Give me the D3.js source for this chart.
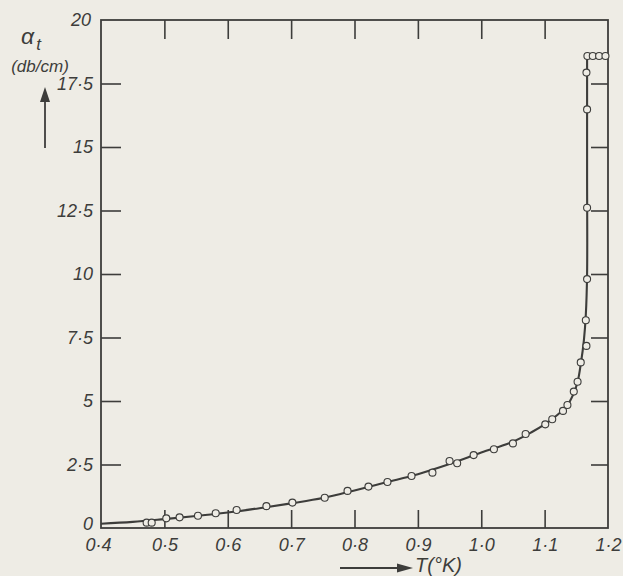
<!DOCTYPE html>
<html>
<head>
<meta charset="utf-8">
<script src="https://cdn.jsdelivr.net/npm/d3@7"></script>
<style>
  html, body { margin: 0; padding: 0; background: #eeece5; }
  svg { display: block; }
  text { font-family: "Liberation Sans", "DejaVu Sans", sans-serif; font-style: italic; fill: #3d3d3b; }
</style>
</head>
<body>
<svg id="chart" width="623" height="576"></svg>
<script>
// Measured points (T in °K, attenuation in db/cm)
const pointsT = [0.472, 0.480, 0.503, 0.524, 0.553, 0.581, 0.614, 0.661, 0.702, 0.753, 0.789, 0.822, 0.852, 0.890, 0.923, 0.950, 0.962, 0.988, 1.020, 1.050, 1.070, 1.101, 1.112, 1.129, 1.136, 1.146, 1.152, 1.157, 1.166, 1.165, 1.167, 1.167, 1.167, 1.166, 1.1675, 1.176, 1.186, 1.196];
const pointsA = [0.21, 0.21, 0.38, 0.42, 0.48, 0.58, 0.71, 0.86, 1.00, 1.19, 1.46, 1.63, 1.81, 2.05, 2.18, 2.64, 2.55, 2.87, 3.10, 3.33, 3.70, 4.08, 4.28, 4.61, 4.84, 5.37, 5.76, 6.52, 7.17, 8.18, 9.8, 12.61, 16.48, 17.93, 18.58, 18.58, 18.58, 18.58];

// Smooth curve
const curveT = [0.40, 0.45, 0.50, 0.55, 0.60, 0.65, 0.70, 0.75, 0.80, 0.85, 0.90, 0.95, 1.00, 1.05, 1.08, 1.10, 1.12, 1.135, 1.145, 1.152, 1.157, 1.162, 1.165, 1.167, 1.167, 1.167];
const curveA = [0.17, 0.24, 0.35, 0.47, 0.61, 0.78, 0.97, 1.18, 1.48, 1.80, 2.12, 2.52, 2.97, 3.40, 3.78, 4.08, 4.45, 4.80, 5.25, 5.75, 6.45, 7.40, 8.40, 10.0, 14.0, 18.58];

// Tick values and labels
const xTickVals = [0.4, 0.5, 0.6, 0.7, 0.8, 0.9, 1.0, 1.1, 1.2];
const xTickLabels = ["0·4", "0·5", "0·6", "0·7", "0·8", "0·9", "1·0", "1·1", "1·2"];
const xInnerTicks = [0.5, 0.6, 0.7, 0.8, 0.9, 1.0, 1.1];
const yTickVals = [0, 2.5, 5, 7.5, 10, 12.5, 15, 17.5, 20];
const yTickLabels = ["0", "2·5", "5", "7·5", "10", "12·5", "15", "17·5", "20"];
const yInnerTicks = [2.5, 5, 7.5, 10, 12.5, 15, 17.5];

const ink = "#3d3d3b";
const bg = "#eeece5";
const svg = d3.select("#chart");

const x = d3.scaleLinear().domain([0.4, 1.2]).range([101, 608]);
const y = d3.scaleLinear().domain([0, 20]).range([528, 20]);

// Axes (ticks drawn inward)
const gB = svg.append("g").attr("transform", `translate(0,${y(0)})`)
  .call(d3.axisBottom(x).tickValues(xTickVals).tickSizeInner(-18).tickSizeOuter(0).tickPadding(10)
    .tickFormat((d, i) => xTickLabels[i]));
const gL = svg.append("g").attr("transform", `translate(${x(0.4)},0)`)
  .call(d3.axisLeft(y).tickValues(yTickVals).tickSizeInner(-20).tickSizeOuter(0).tickPadding(8)
    .tickFormat((d, i) => yTickLabels[i]));
const gT = svg.append("g").attr("transform", `translate(0,${y(20)})`)
  .call(d3.axisTop(x).tickValues(xInnerTicks).tickSizeInner(-19).tickSizeOuter(0).tickFormat(""));
const gR = svg.append("g").attr("transform", `translate(${x(1.2)},0)`)
  .call(d3.axisRight(y).tickValues(yInnerTicks).tickSizeInner(-17).tickSizeOuter(0).tickFormat(""));

[gB, gL, gT, gR].forEach(g => {
  g.select(".domain").remove();
  g.selectAll(".tick line").attr("stroke", ink).attr("stroke-width", 1.6);
  g.selectAll(".tick text").attr("fill", ink).attr("font-size", 18)
    .attr("font-family", "Liberation Sans, DejaVu Sans, sans-serif").attr("font-style", "italic");
});
gB.selectAll(".tick").filter(d => d === 0.4 || d === 1.2).select("line").remove();
gL.selectAll(".tick").filter(d => d === 0 || d === 20).select("line").remove();
gB.selectAll(".tick").filter(d => d === 0.4).select("text").attr("dx", -3);
gL.selectAll(".tick").filter(d => d === 0).select("text").attr("y", -4);
gL.selectAll(".tick").filter(d => d === 20).select("text").attr("x", -10);

// Frame
svg.append("rect")
  .attr("x", x(0.4)).attr("y", y(20))
  .attr("width", x(1.2) - x(0.4)).attr("height", y(0) - y(20))
  .attr("fill", "none").attr("stroke", ink).attr("stroke-width", 1.8);

// Curve
const line = d3.line().x(d => x(d[0])).y(d => y(d[1])).curve(d3.curveCatmullRom.alpha(0.5));
svg.append("path")
  .datum(curveT.map((t, i) => [t, curveA[i]]))
  .attr("d", line).attr("fill", "none").attr("stroke", ink).attr("stroke-width", 2.1);

// Points
svg.append("g").selectAll("circle")
  .data(pointsT.map((t, i) => [t, pointsA[i]]))
  .join("circle")
  .attr("cx", d => x(d[0])).attr("cy", d => y(d[1])).attr("r", 3.5)
  .attr("fill", bg).attr("stroke", ink).attr("stroke-width", 1.1);

// Y axis label
const yl = svg.append("text").attr("x", 21).attr("y", 44).attr("font-size", 23);
yl.append("tspan").text("α");
yl.append("tspan").attr("font-size", 17).attr("dx", 2).attr("dy", 6).text("t");
svg.append("text").attr("x", 40).attr("y", 72).attr("text-anchor", "middle")
  .attr("font-size", 17).text("(db/cm)");
svg.append("line").attr("x1", 45).attr("x2", 45).attr("y1", 148).attr("y2", 100)
  .attr("stroke", ink).attr("stroke-width", 1.8);
svg.append("path").attr("d", "M45,87 L40,102 L50,102 Z").attr("fill", ink);

// X axis label
svg.append("line").attr("x1", 340).attr("x2", 400).attr("y1", 568).attr("y2", 568)
  .attr("stroke", ink).attr("stroke-width", 1.8);
svg.append("path").attr("d", "M413,568 L397,563.5 L397,572.5 Z").attr("fill", ink);
svg.append("text").attr("x", 415).attr("y", 572).attr("font-size", 20).text("T(°K)");
</script>
</body>
</html>
